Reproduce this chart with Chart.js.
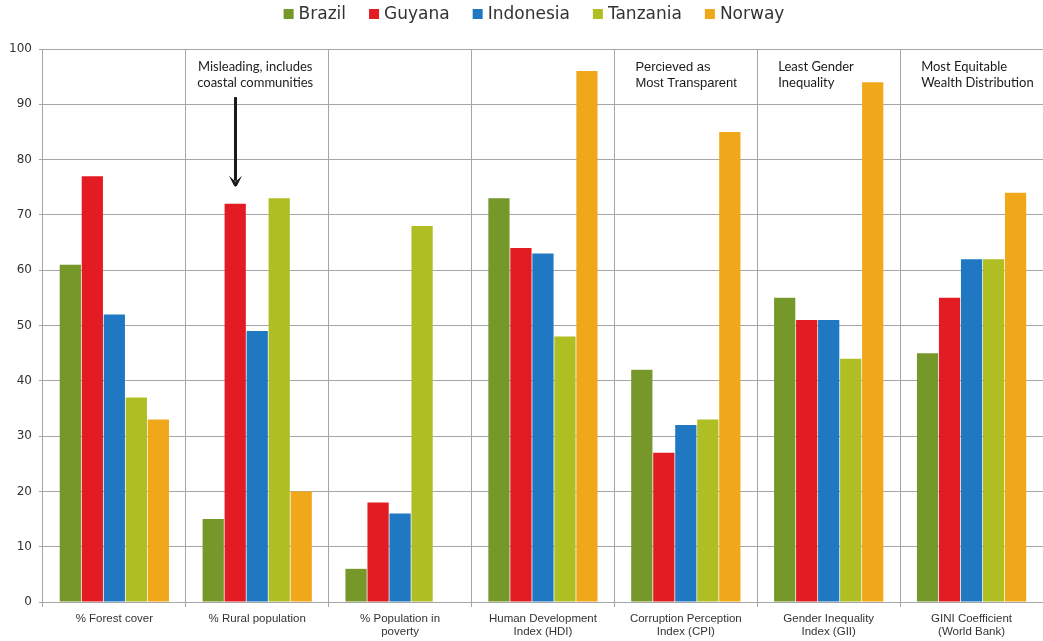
<!DOCTYPE html>
<html>
<head>
<meta charset="utf-8">
<script src="https://cdn.jsdelivr.net/npm/chart.js@4/dist/chart.umd.min.js"></script>
<style>
  html, body { margin: 0; padding: 0; background: #ffffff; }
  #wrap { width: 1043px; height: 641px; position: relative; }
</style>
</head>
<body>
<div id="wrap"><canvas id="chart"></canvas></div>
<script>
// Indicator categories (x axis), two-line labels
const categories = [
  ['% Forest cover'],
  ['% Rural population'],
  ['% Population in', 'poverty'],
  ['Human Development', 'Index (HDI)'],
  ['Corruption Perception', 'Index (CPI)'],
  ['Gender Inequality', 'Index (GII)'],
  ['GINI Coefficient', '(World Bank)']
];

// Country series values, one per indicator
const brazil    = [61, 15, 6, 73, 42, 55, 45];
const guyana    = [77, 72, 18, 64, 27, 51, 55];
const indonesia = [52, 49, 16, 63, 32, 51, 62];
const tanzania  = [37, 73, 68, 48, 33, 44, 62];
const norway    = [33, 20, null, 96, 85, 94, 74];

const countryNames = ['Brazil', 'Guyana', 'Indonesia', 'Tanzania', 'Norway'];
const countryColors = ['#76982b', '#e31b23', '#1f78c1', '#afbe22', '#f0a81a'];

// Y axis scale
const yMin = 0;
const yMax = 100;
const yStep = 10;

// Notes written at the top of some indicator columns
const notes = [
  { category: 1, lines: ['Misleading, includes', 'coastal communities'], align: 'center', font: '13px Lato', arrowSeries: 1 },
  { category: 4, lines: ['Percieved as', 'Most Transparent'], align: 'left', font: '13px "Liberation Sans", Arial, sans-serif' },
  { category: 5, lines: ['Least Gender', 'Inequality'], align: 'left', font: '13px Lato' },
  { category: 6, lines: ['Most Equitable', 'Wealth Distribution'], align: 'left', font: '13px Lato' }
];

const seriesValues = [brazil, guyana, indonesia, tanzania, norway];
const datasets = countryNames.map((name, i) => ({
  label: name,
  data: seriesValues[i],
  backgroundColor: countryColors[i],
  borderWidth: 0,
  categoryPercentage: 0.77,
  barPercentage: 0.965
}));

// Legend drawn across the top of the canvas
const topLegend = {
  id: 'topLegend',
  afterDraw(chart) {
    const ctx = chart.ctx;
    ctx.save();
    ctx.font = '17px "DejaVu Sans", Verdana, sans-serif';
    ctx.textBaseline = 'middle';
    const box = 10, gapText = 5, gapItem = 23;
    const items = chart.data.datasets.map(d => ({
      label: d.label, color: d.backgroundColor, w: ctx.measureText(d.label).width
    }));
    let total = 0;
    items.forEach((it, i) => { total += box + gapText + it.w + (i < items.length - 1 ? gapItem : 0); });
    let x = 534 - total / 2;
    const y = 14;
    items.forEach(it => {
      ctx.fillStyle = it.color;
      ctx.fillRect(x, y - box / 2, box, box);
      ctx.fillStyle = '#333333';
      ctx.textAlign = 'left';
      ctx.fillText(it.label, x + box + gapText, y + 1);
      x += box + gapText + it.w + gapItem;
    });
    ctx.restore();
  }
};

// Column notes and the pointer arrow
const columnNotes = {
  id: 'columnNotes',
  afterDatasetsDraw(chart) {
    const ctx = chart.ctx;
    const xs = chart.scales.x;
    const ys = chart.scales.y;
    const half = (xs.getPixelForValue(1) - xs.getPixelForValue(0)) / 2;
    ctx.save();
    ctx.fillStyle = '#222222';
    ctx.textBaseline = 'middle';
    notes.forEach(n => {
      const cx = xs.getPixelForValue(n.category);
      ctx.font = n.font;
      ctx.textAlign = n.align;
      const tx = n.align === 'center' ? cx - 2 : cx - half + 21;
      n.lines.forEach((line, k) => {
        ctx.fillText(line, tx, ys.getPixelForValue(96.7) + k * 16);
      });
      if (n.arrowSeries !== undefined) {
        const bar = chart.getDatasetMeta(n.arrowSeries).data[n.category];
        const ax = Math.round(bar.x) + 0.5;
        const top = ys.getPixelForValue(91.3);
        const tip = bar.y - 17;
        ctx.strokeStyle = '#1a1a1a';
        ctx.lineWidth = 3;
        ctx.beginPath();
        ctx.moveTo(ax, top);
        ctx.lineTo(ax, tip - 6);
        ctx.stroke();
        ctx.fillStyle = '#1a1a1a';
        ctx.beginPath();
        ctx.moveTo(ax - 6.5, tip - 11);
        ctx.lineTo(ax, tip - 5);
        ctx.lineTo(ax + 6.5, tip - 11);
        ctx.lineTo(ax + 1.5, tip - 1);
        ctx.lineTo(ax, tip);
        ctx.lineTo(ax - 1.5, tip - 1);
        ctx.closePath();
        ctx.fill();
      }
    });
    ctx.restore();
  }
};

new Chart(document.getElementById('chart'), {
  type: 'bar',
  data: { labels: categories, datasets },
  options: {
    responsive: true,
    maintainAspectRatio: false,
    animation: false,
    layout: { padding: { top: 49, right: 0, bottom: -3, left: 2 } },
    plugins: {
      legend: { display: false },
      tooltip: { enabled: false }
    },
    scales: {
      x: {
        grid: {
          offset: true,
          color: '#a6a6a6',
          lineWidth: 1,
          drawTicks: true,
          tickLength: 5,
          tickColor: '#a6a6a6'
        },
        border: { color: '#a6a6a6', width: 1 },
        ticks: {
          color: '#333333',
          padding: 5.5,
          maxRotation: 0,
          autoSkip: false,
          font: { family: '"Liberation Sans", Arial, sans-serif', size: 11.5, lineHeight: 1.13 }
        }
      },
      y: {
        min: yMin,
        max: yMax,
        grid: {
          color: '#a6a6a6',
          lineWidth: 1,
          drawTicks: true,
          tickLength: 4,
          tickColor: '#a6a6a6'
        },
        border: { color: '#a6a6a6', width: 1 },
        ticks: {
          stepSize: yStep,
          color: '#333333',
          padding: 7,
          font: { family: '"DejaVu Sans", Verdana, sans-serif', size: 12 }
        }
      }
    }
  },
  plugins: [topLegend, columnNotes]
});
</script>
</body>
</html>
